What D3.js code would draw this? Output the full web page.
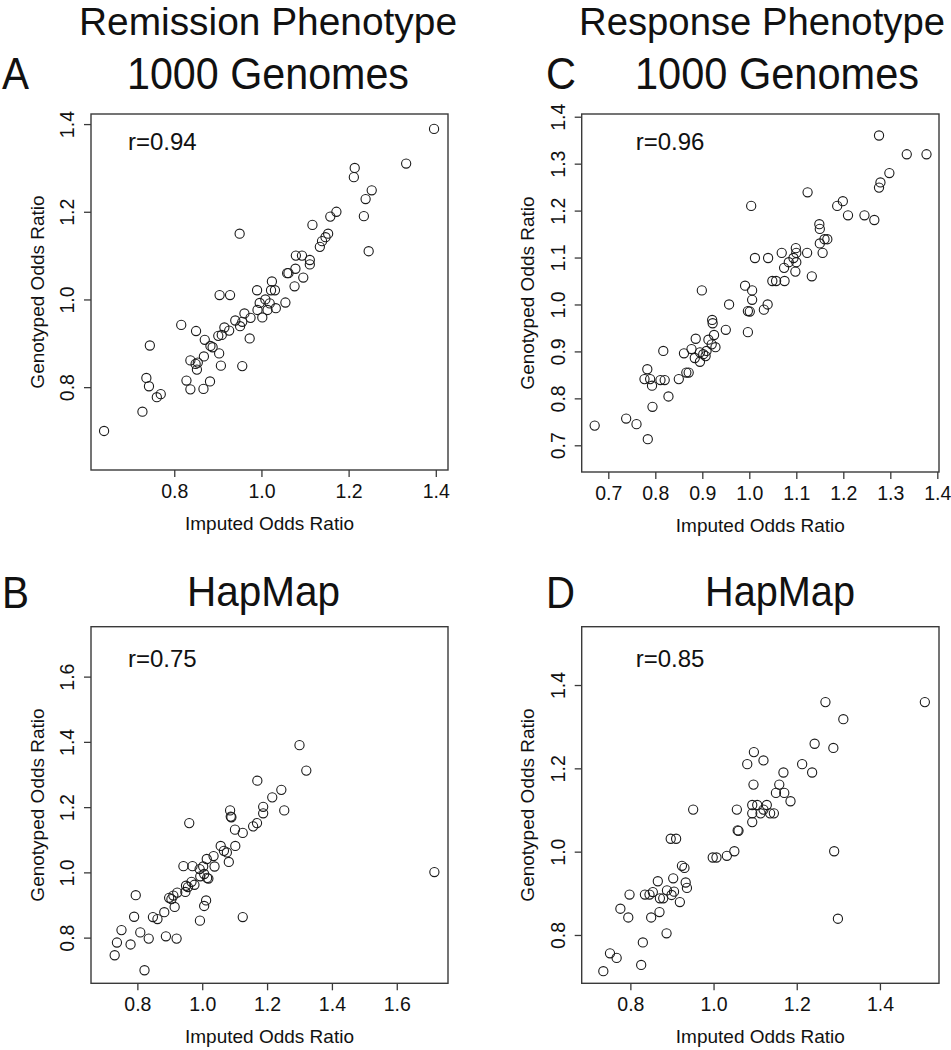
<!DOCTYPE html>
<html><head><meta charset="utf-8">
<script src="https://cdn.jsdelivr.net/npm/d3@7"></script>
<style>body{margin:0;background:#fff}</style>
</head><body>
<svg id="chart" width="951" height="1050"></svg>
<script>
// Panel A: Remission, 1000 Genomes
const remission1000gImputed = [1.396,1.332,1.214,1.212,1.253,1.239,1.235,1.172,1.158,1.117,0.950,1.246,1.153,1.147,1.139,1.134,1.079,1.093,1.111,1.111,1.078,1.062,1.059,1.096,1.076,1.024,1.022,1.031,0.990,0.928,0.904,0.996,1.009,1.019,1.055,0.991,1.002,1.014,1.033,0.975,0.961,0.956,0.951,0.940,0.926,0.915,0.909,0.901,0.973,0.816,0.850,0.870,0.883,0.888,0.903,0.744,0.868,0.837,0.849,0.854,0.852,0.907,0.956,0.736,0.742,0.828,0.837,0.867,0.882,0.769,0.760,0.727,0.639];
const remission1000gGenotyped = [1.389,1.310,1.300,1.279,1.249,1.229,1.190,1.200,1.189,1.170,1.150,1.110,1.150,1.142,1.133,1.120,1.100,1.100,1.090,1.080,1.070,1.060,1.060,1.050,1.030,1.041,1.021,1.021,1.021,1.010,1.010,0.992,1.000,0.991,0.993,0.976,0.959,0.976,0.980,0.958,0.968,0.949,0.939,0.952,0.929,0.936,0.919,0.917,0.911,0.942,0.928,0.908,0.894,0.891,0.877,0.895,0.870,0.861,0.853,0.856,0.840,0.849,0.848,0.821,0.802,0.815,0.795,0.796,0.813,0.784,0.777,0.744,0.700];

// Panel C: Response, 1000 Genomes
const response1000gImputed = [1.276,1.335,1.377,1.298,1.279,1.276,1.124,1.004,1.187,1.199,1.210,1.245,1.266,1.149,1.150,1.160,1.166,1.150,1.156,1.123,1.099,1.100,1.100,1.094,1.084,1.074,1.098,1.069,1.040,1.012,1.133,1.075,1.057,1.049,0.899,0.991,1.006,1.006,0.957,1.039,0.997,1.001,1.031,0.997,0.950,0.921,0.922,0.925,0.913,0.920,0.928,0.909,0.902,0.895,0.886,0.884,0.895,0.907,0.877,0.861,0.866,0.871,0.850,0.817,0.811,0.820,0.828,0.783,0.777,0.789,0.793,0.794,0.738,0.760,0.671,0.784];
const response1000gGenotyped = [1.360,1.320,1.320,1.280,1.260,1.249,1.239,1.210,1.210,1.220,1.190,1.190,1.180,1.171,1.161,1.139,1.139,1.130,1.110,1.110,1.120,1.110,1.090,1.099,1.090,1.078,1.070,1.110,1.099,1.099,1.060,1.050,1.050,1.050,1.030,1.040,1.030,1.010,1.000,1.000,0.986,0.985,0.989,0.941,0.946,0.967,0.960,0.935,0.925,0.915,0.909,0.901,0.894,0.898,0.927,0.886,0.878,0.890,0.905,0.896,0.855,0.855,0.841,0.901,0.839,0.839,0.804,0.862,0.841,0.841,0.827,0.782,0.757,0.745,0.742,0.713];

// Panel B: Remission, HapMap
const remissionHapmapImputed = [1.300,1.321,1.170,1.244,1.216,1.188,1.188,1.253,1.169,1.157,1.086,1.088,1.090,0.960,1.101,1.125,1.102,1.057,1.067,1.076,1.082,1.035,1.014,1.038,1.003,0.992,0.970,0.942,1.006,0.994,1.019,1.015,0.976,0.967,0.950,0.956,0.948,0.923,0.911,0.898,0.905,0.915,1.012,1.006,0.993,1.125,0.883,0.862,0.848,0.795,0.790,0.751,0.809,0.835,0.888,0.921,0.737,0.779,0.730,0.822,1.716];
const remissionHapmapGenotyped = [1.390,1.312,1.281,1.253,1.230,1.201,1.181,1.190,1.151,1.141,1.190,1.171,1.169,1.151,1.131,1.121,1.081,1.081,1.066,1.061,1.032,1.050,1.041,1.018,1.018,1.010,1.019,1.019,0.995,0.988,0.981,0.983,0.962,0.971,0.959,0.955,0.940,0.938,0.929,0.922,0.918,0.894,0.914,0.897,0.852,0.863,0.878,0.857,0.863,0.930,0.864,0.823,0.816,0.797,0.804,0.797,0.785,0.779,0.746,0.700,1.001];

// Panel D: Response, HapMap
const responseHapmapImputed = [1.508,1.269,1.312,1.243,1.288,1.097,1.081,1.120,1.168,1.213,1.237,1.096,1.158,1.150,1.170,1.185,1.093,1.105,1.128,1.120,1.113,1.093,1.136,1.145,1.093,1.056,0.951,1.058,1.060,0.897,0.910,1.050,1.032,1.007,0.998,1.290,1.299,0.924,0.930,0.903,0.866,0.933,0.936,0.905,0.888,0.899,0.879,0.871,0.854,0.835,0.846,0.919,0.798,0.776,0.795,0.870,0.850,0.887,0.830,0.751,0.767,0.826,0.735];
const responseHapmapGenotyped = [1.359,1.359,1.318,1.259,1.249,1.239,1.210,1.219,1.190,1.210,1.190,1.161,1.161,1.141,1.141,1.121,1.112,1.112,1.112,1.101,1.092,1.092,1.092,1.092,1.071,1.101,1.101,1.051,1.050,1.031,1.031,1.001,0.990,0.986,0.986,1.001,0.839,0.966,0.961,0.936,0.929,0.926,0.913,0.904,0.907,0.896,0.888,0.888,0.903,0.897,0.897,0.879,0.897,0.863,0.842,0.855,0.842,0.804,0.782,0.756,0.745,0.728,0.713];

// Tick labels
const ticksA = [0.8, 1.0, 1.2, 1.4];
const ticksC = [0.7, 0.8, 0.9, 1.0, 1.1, 1.2, 1.3, 1.4];
const ticksBx = [0.8, 1.0, 1.2, 1.4, 1.6];
const ticksBy = [0.8, 1.0, 1.2, 1.4, 1.6];
const ticksD = [0.8, 1.0, 1.2, 1.4];

// Axis limits
const limitsAx = [0.609, 1.428], limitsAy = [0.611, 1.423];
const limitsCx = [0.6434, 1.4036], limitsCy = [0.6431, 1.4058];
const limitsBx = [0.657, 1.758], limitsBy = [0.660, 1.753];
const limitsDx = [0.683, 1.542], limitsDy = [0.684, 1.540];

const correlations = ["r=0.94", "r=0.75", "r=0.96", "r=0.85"];
const xTitle = "Imputed Odds Ratio", yTitle = "Genotyped Odds Ratio";

const FONT = "'Liberation Sans', Arial, Helvetica, sans-serif";
const svg = d3.select("#chart").style("font-family", FONT);
const fmt = d3.format(".1f");
const INK = "#1a1a1a", AXIS = "#3a3a3a";

const panels = [
  {x: remission1000gImputed, y: remission1000gGenotyped, xt: ticksA, yt: ticksA, xd: limitsAx, yd: limitsAy, r: correlations[0], box: [91, 448, 114, 470], rdx: 37, rdy: 36},
  {x: remissionHapmapImputed, y: remissionHapmapGenotyped, xt: ticksBx, yt: ticksBy, xd: limitsBx, yd: limitsBy, r: correlations[1], box: [91, 448, 626.7, 983.3], rdx: 37, rdy: 40},
  {x: response1000gImputed, y: response1000gGenotyped, xt: ticksC, yt: ticksC, xd: limitsCx, yd: limitsCy, r: correlations[2], box: [581.7, 939, 114, 472], rdx: 54, rdy: 36},
  {x: responseHapmapImputed, y: responseHapmapGenotyped, xt: ticksD, yt: ticksD, xd: limitsDx, yd: limitsDy, r: correlations[3], box: [581.7, 939, 626.7, 983.3], rdx: 54, rdy: 40}
];

panels.forEach(p => {
  const [l, rr, t, b] = p.box;
  const xs = d3.scaleLinear().domain(p.xd).range([l, rr]);
  const ys = d3.scaleLinear().domain(p.yd).range([b, t]);
  const g = svg.append("g");

  const xa = g.append("g").attr("transform", `translate(0,${b})`)
    .call(d3.axisBottom(xs).tickValues(p.xt).tickFormat(fmt).tickSize(7).tickSizeOuter(0).tickPadding(7));
  xa.select(".domain").remove();
  xa.selectAll("line").attr("stroke", AXIS).attr("stroke-width", 1.3);
  xa.selectAll("text").attr("font-size", 19.5).attr("font-family", FONT).attr("fill", "#111");

  const ya = g.append("g").attr("transform", `translate(${l},0)`)
    .call(d3.axisLeft(ys).tickValues(p.yt).tickFormat(fmt).tickSize(7).tickSizeOuter(0));
  ya.select(".domain").remove();
  ya.selectAll("line").attr("stroke", AXIS).attr("stroke-width", 1.3);
  ya.selectAll("text").attr("font-size", 19.5).attr("font-family", FONT).attr("fill", "#111")
    .attr("x", null).attr("dy", null)
    .attr("text-anchor", "middle")
    .attr("transform", "translate(-24,0) rotate(-90)")
    .attr("dominant-baseline", "central");

  g.append("rect").attr("x", l).attr("y", t).attr("width", rr - l).attr("height", b - t)
    .attr("fill", "none").attr("stroke", AXIS).attr("stroke-width", 1.4);

  g.append("g").selectAll("circle").data(p.x.map((v, i) => [v, p.y[i]])).join("circle")
    .attr("cx", d => xs(d[0])).attr("cy", d => ys(d[1])).attr("r", 4.6)
    .attr("fill", "none").attr("stroke", INK).attr("stroke-width", 1.1);

  g.append("text").attr("x", l + p.rdx).attr("y", t + p.rdy).attr("font-size", 24).attr("fill", "#111").text(p.r);

  g.append("text").attr("x", (l + rr) / 2).attr("y", b + 53).attr("text-anchor", "middle")
    .attr("dominant-baseline", "central").attr("font-size", 19).attr("fill", "#111").text(xTitle);
  g.append("text").attr("transform", `translate(${l - 54},${(t + b) / 2}) rotate(-90)`).attr("text-anchor", "middle")
    .attr("dominant-baseline", "central").attr("font-size", 19).attr("fill", "#111").text(yTitle);
});

// Headings (condensed look via textLength)
const headings = [
  {text: "Remission Phenotype", x: 79, y: 35, size: 38, len: 378},
  {text: "Response Phenotype", x: 579, y: 35, size: 38, len: 366},
  {text: "A", x: 2, y: 89, size: 44, len: 27},
  {text: "1000 Genomes", x: 127, y: 89, size: 44, len: 282},
  {text: "C", x: 546, y: 89, size: 44, len: 30},
  {text: "1000 Genomes", x: 635, y: 89, size: 44, len: 284},
  {text: "B", x: 2, y: 608, size: 44, len: 27},
  {text: "HapMap", x: 187, y: 606, size: 42, len: 153},
  {text: "D", x: 546, y: 608, size: 44, len: 29},
  {text: "HapMap", x: 705, y: 606, size: 42, len: 150}
];
svg.append("g").selectAll("text").data(headings).join("text")
  .attr("x", d => d.x).attr("y", d => d.y).attr("font-size", d => d.size)
  .attr("textLength", d => d.len).attr("lengthAdjust", "spacingAndGlyphs")
  .attr("fill", "#111").text(d => d.text);
</script>
</body></html>
